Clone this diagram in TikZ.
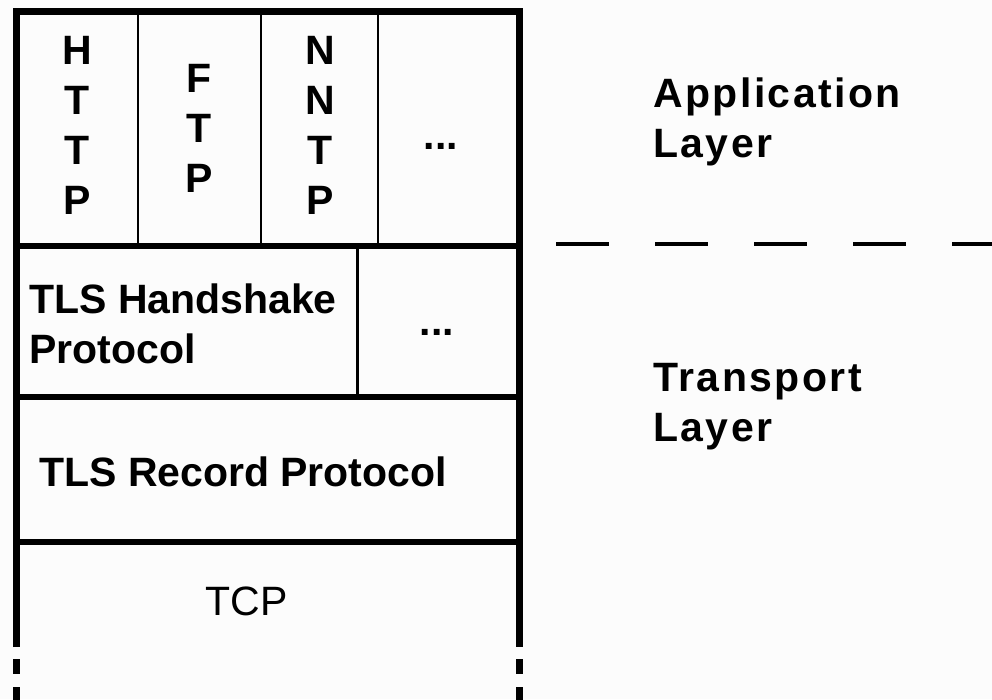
\documentclass[tikz,border=0pt]{standalone}
\usepackage{fontspec}
\setmainfont{Liberation Sans}
\newfontfamily\widebold[LetterSpace=6,BoldFont={Liberation Sans Bold}]{Liberation Sans}
\definecolor{paper}{RGB}{252,252,252}
\begin{document}
\begin{tikzpicture}[x=1pt,y=-1pt,
  frame/.style={line width=7pt},
  rule/.style={line width=6pt},
  divider/.style={line width=2.5pt},
  plainlbl/.style={inner sep=0pt, font=\fontsize{41}{50}\selectfont},
  lbl/.style={inner sep=0pt, font=\fontsize{41}{50}\selectfont\bfseries},
  stack/.style={lbl, align=center, anchor=north},
  sidelbl/.style={inner sep=0pt, font=\widebold\fontsize{41}{50}\selectfont\bfseries,
    align=left, anchor=north west},
  layersep/.style={line width=3.5pt, dash pattern=on 53pt off 46pt},
]
\fill[paper] (0,0) rectangle (992,699);
\useasboundingbox (0,0) rectangle (992,699);

% corner points of the protocol stack
\coordinate (tl) at (16.5,11.5);   \coordinate (tr) at (519,11.5);
\coordinate (l1) at (16.5,246);    \coordinate (r1) at (519,246);
\coordinate (l2) at (16.5,397);    \coordinate (r2) at (519,397);
\coordinate (l3) at (16.5,542);    \coordinate (r3) at (519,542);
\coordinate (lend) at (16.5,647);  \coordinate (rend) at (519,647);
\coordinate (ldash) at (16.5,659); \coordinate (rdash) at (519,659);
\coordinate (lbot) at (16.5,702);  \coordinate (rbot) at (519,702);

% layer rules
\draw[rule] (l1) -- (r1);
\draw[rule] (l2) -- (r2);
\draw[rule] (l3) -- (r3);

% column dividers
\draw[divider] (138,11.5) -- (138,246);
\draw[divider] (261,11.5) -- (261,246);
\draw[divider] (378,11.5) -- (378,246);
\draw[divider] (357.5,246) -- (357.5,397);

% outer frame, open at the bottom
\draw[frame] (lend) -- (tl) -- (tr) -- (rend);
\draw[frame, dash pattern=on 15pt off 13pt] (ldash) -- (lbot);
\draw[frame, dash pattern=on 15pt off 13pt] (rdash) -- (rbot);

% boundary between the layers
\coordinate (sepstart) at (556,244);
\coordinate (sepend) at (992,244);
\draw[layersep] (sepstart) -- (sepend);

% application protocols
\node[stack] (http) at (77,36.5) {H\\T\\T\\P};
\node[stack] (ftp) at (199,64.5) {F\\T\\P};
\node[stack] (nntp) at (320,36.5) {N\\N\\T\\P};
\node[lbl, anchor=base] (appmore) at (441,149) {...};

% TLS sub-protocols
\node[lbl, align=left, anchor=north west] (handshake) at (29,283.6) {TLS Handshake\\Protocol};
\node[lbl, anchor=base] (hsmore) at (437,335) {...};
\node[lbl, anchor=base west] (record) at (39,486) {TLS Record Protocol};
\node[plainlbl, anchor=base] (tcp) at (246.5,615) {TCP};

% layer names
\node[sidelbl] (applayer) at (653,77.6) {Application\\Layer};
\node[sidelbl] (translayer) at (653,362.6) {Transport\\Layer};
\end{tikzpicture}
\end{document}
